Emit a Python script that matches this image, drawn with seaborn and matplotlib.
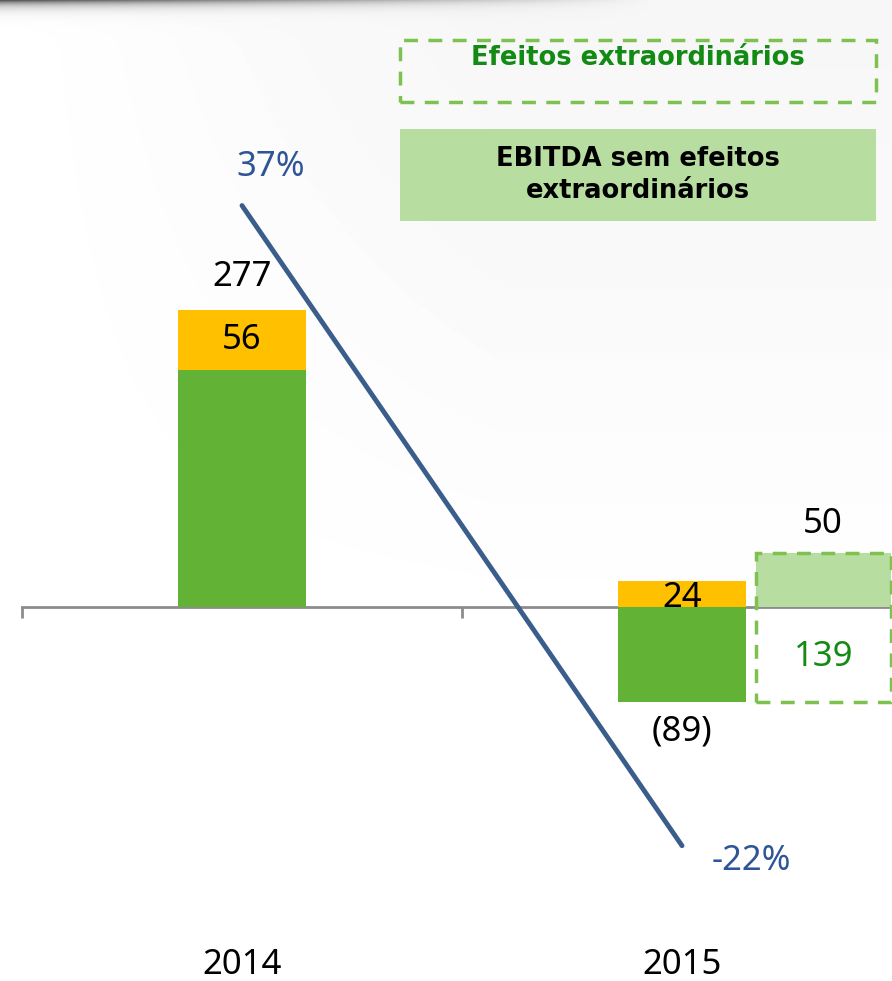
import numpy as np
import pandas as pd
import seaborn as sns
from matplotlib import pyplot as plt
from matplotlib.patches import Rectangle

# chart values
years = ['2014', '2015']
ebitda_core = [221, -89]       # EBITDA sem efeitos extraordinários
extraordinary = [56, 24]       # efeitos extraordinários
ebitda_total_label = ['277', None]
margin = [37, -22]             # margem EBITDA (%)
adj_positive = 50              # efeitos extraordinários 2015 (acima do zero)
adj_span = 139                 # caixa tracejada 2015

GREEN = '#62B236'
ORANGE = '#FFC000'
LIGHT_GREEN = '#B8DDA0'
DASH_GREEN = '#7DC24F'
TEXT_GREEN = '#138A13'
NAVY = '#3A5D8C'
LABEL_BLUE = '#2F5597'
AXIS_GREY = '#8C8C8C'

sns.set_style('white')
plt.rcParams['font.family'] = ['Noto Sans', 'DejaVu Sans']
plt.rcParams['text.color'] = 'black'

W, H = 892, 981
fig = plt.figure(figsize=(W / 100, H / 100), dpi=100)
fig.patch.set_facecolor('white')

# soft background with the top shadow
bg = fig.add_axes([0, 0, 1, 1], zorder=-5)
yy, xx = np.mgrid[0:H, 0:W]
img = np.ones((H, W))
img -= 0.035 * np.clip(1 - yy / 650, 0, 1) * np.clip(xx / 500, 0, 1)
img -= 0.65 * np.exp(-yy / 5.0) * np.clip(1 - xx / 650, 0, 1)
bg.imshow(img, cmap='gray', vmin=0, vmax=1, aspect='auto', interpolation='bilinear')
bg.axis('off')

ax = fig.add_axes([22 / W, 0, (W - 22) / W, 1])
ax.set_facecolor('none')

df = pd.DataFrame({
    'year': years,
    'core': ebitda_core,
    'extra': extraordinary,
})
df['bottom'] = df['core'].clip(lower=0)

bar_w = 0.29
sns.barplot(data=df, x='year', y='core', color=GREEN, width=bar_w,
            saturation=1, ax=ax, zorder=3, edgecolor='none', linewidth=0)
sns.barplot(data=df, x='year', y='extra', color=ORANGE, width=bar_w,
            saturation=1, ax=ax, bottom=df['bottom'].values, zorder=3,
            edgecolor='none', linewidth=0)

# 2015 extraordinary effects bar, shifted right
x_adj = 1.321
w_adj = 0.307
ax.bar(x_adj, adj_positive, width=w_adj, color=LIGHT_GREEN, zorder=3, linewidth=0)
ax.add_patch(Rectangle((x_adj - w_adj / 2, adj_positive - adj_span), w_adj, adj_span,
                       fill=False, edgecolor=DASH_GREEN, lw=2.5, ls=(0, (4, 3)), zorder=4))

px = 1.072
ax.set_ylim(-(H - 607) / px, 607 / px)

for s in ['top', 'right', 'left']:
    ax.spines[s].set_visible(False)
ax.spines['bottom'].set_position(('data', 0))
ax.spines['bottom'].set_color(AXIS_GREY)
ax.spines['bottom'].set_linewidth(2)
ax.spines['bottom'].set_zorder(2)
ax.set_yticks([])
ax.set_xlabel('')
ax.set_ylabel('')

fs = 25
# value labels
tot14 = ebitda_core[0] + extraordinary[0]
ax.annotate(ebitda_total_label[0], (0, tot14), xytext=(0, 24), textcoords='offset points',
            ha='center', va='center', fontsize=fs, zorder=6)
ax.annotate(str(extraordinary[0]), (0, ebitda_core[0] + extraordinary[0] / 2),
            ha='center', va='center', fontsize=fs, zorder=6)
ax.annotate(str(extraordinary[1]), (1, extraordinary[1] / 2), xytext=(0, -3),
            textcoords='offset points', ha='center', va='center', fontsize=fs, zorder=6)
ax.annotate(f'({abs(ebitda_core[1])})', (1, ebitda_core[1]), xytext=(0, -21),
            textcoords='offset points', ha='center', va='center', fontsize=fs, zorder=6)
ax.annotate(str(adj_positive), (x_adj, adj_positive), xytext=(0, 21),
            textcoords='offset points', ha='center', va='center', fontsize=fs, zorder=6)
ax.annotate(str(adj_span), (x_adj, 0), xytext=(0, -36), textcoords='offset points',
            ha='center', va='center', fontsize=fs, color=TEXT_GREEN, zorder=6)

for i, y in enumerate(years):
    ax.text(i, 1 - 965 / H, y, transform=ax.get_xaxis_transform(),
            ha='center', va='center', fontsize=fs)

# EBITDA margin line on secondary axis
ax2 = ax.twinx()
ax2.set_ylim(-(H - 607) / 10.85, 607 / 10.85)
sns.lineplot(x=[0, 1], y=margin, color=NAVY, lw=3.5, ax=ax2, zorder=5)
ax2.annotate(f'{margin[0]}%', (0, margin[0]), xytext=(21, 28), textcoords='offset points',
             ha='center', va='center', fontsize=fs, color=LABEL_BLUE)
ax2.annotate(f'{margin[1]}%', (1, margin[1]), xytext=(50, -11), textcoords='offset points',
             ha='center', va='center', fontsize=fs, color=LABEL_BLUE)
ax2.set_yticks([])
ax2.set_ylabel('')
for s in ax2.spines.values():
    s.set_visible(False)

# category ticks first, then the x range (set_ticks would widen the view)
ax.set_xticks([-0.5, 0.5])
ax.set_xticklabels([])
ax.tick_params(axis='x', bottom=True, length=8, width=2, color=AXIS_GREY, direction='out')
unit = 440
ax.set_xlim(-0.5, -0.5 + (W - 22) / unit)

# legend boxes
def fig_rect(x0, y0, x1, y1, **kw):
    r = Rectangle((x0 / W, 1 - y1 / H), (x1 - x0) / W, (y1 - y0) / H,
                  transform=fig.transFigure, **kw)
    fig.patches.append(r)

fig_rect(400, 40, 876, 102, fill=False, edgecolor=DASH_GREEN, lw=2.5, ls=(0, (4, 3)))
fig.text(638 / W, 1 - 58 / H, 'Efeitos extraordinários', ha='center', va='center',
         fontsize=18.5, fontweight='bold', color=TEXT_GREEN, family='DejaVu Sans')
fig_rect(400, 129, 876, 221, facecolor=LIGHT_GREEN, edgecolor='none')
fig.text(638 / W, 1 - 175 / H, 'EBITDA sem efeitos\nextraordinários', ha='center',
         va='center', fontsize=18.5, fontweight='bold', color='black', linespacing=1.35,
         family='DejaVu Sans')

fig.savefig('out.png', dpi=100)
